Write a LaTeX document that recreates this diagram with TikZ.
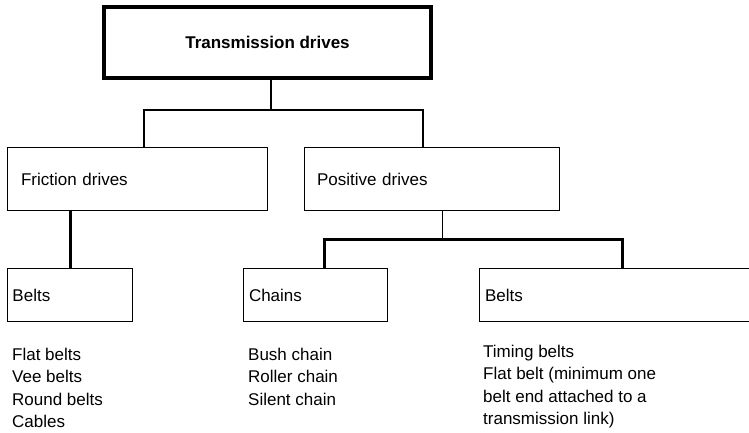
\documentclass[tikz,border=0pt]{standalone}
\usepackage{fontspec}
\setmainfont{Liberation Sans}
\begin{document}
\begin{tikzpicture}[x=1pt,y=-1pt,
    every node/.style={font=\fontsize{17}{22.5}\selectfont},
    box/.style={draw,line width=1.5pt,outer sep=0pt,anchor=north west,inner ysep=0pt,align=left},
    list/.style={anchor=base west,align=left,inner sep=0pt},
    link/.style={line width=1.5pt},
    heavy/.style={line width=3pt},
    light/.style={line width=0.8pt}]
  \clip (0,0) rectangle (749,433);
  \node[draw,line width=4pt,outer sep=0pt,minimum width=327pt,minimum height=71pt,
        font=\fontsize{17}{22.5}\bfseries] (trans) at (267.5,42.5) {Transmission drives};
  \node[box,text width=233pt,inner xsep=13.5pt,minimum height=63pt] (fric) at (7.5,147.5) {Friction drives};
  \node[box,text width=230pt,inner xsep=12.5pt,minimum height=63pt] (pos) at (304.5,147.5) {Positive drives};
  \node[box,text width=115pt,inner xsep=5pt,minimum height=53pt] (beltsf) at (7.5,268.5) {Belts};
  \node[box,text width=133pt,inner xsep=5.5pt,minimum height=53pt] (chains) at (243.5,268.5) {Chains};
  \node[box,text width=274.5pt,inner xsep=5.5pt,minimum height=53pt] (beltsp) at (479.5,268.5) {Belts};
  \node[list] (fricitems) at (12,427.5) {Flat belts\\Vee belts\\Round belts\\Cables};
  \node[list] (chainitems) at (248,405) {Bush chain\\Roller chain\\Silent chain};
  \node[list] (beltitems) at (483,424.5) {Timing belts\\Flat belt (minimum one\\belt end attached to a\\transmission link)};
  \draw[link] ([xshift=3.5pt]trans.south) -- ++(0,32) coordinate (j1);
  \draw[link] ([xshift=6.5pt]fric.north) |- (j1) -| ([xshift=-9pt]pos.north);
  \draw[heavy] (fric.south -| beltsf.north) -- (beltsf.north);
  \draw[light] ([xshift=10pt]pos.south) -- ++(0,28.5) coordinate (j2);
  \draw[heavy] ([xshift=8.5pt]chains.north) |- (j2) -| (beltsp.north);
\end{tikzpicture}
\end{document}
